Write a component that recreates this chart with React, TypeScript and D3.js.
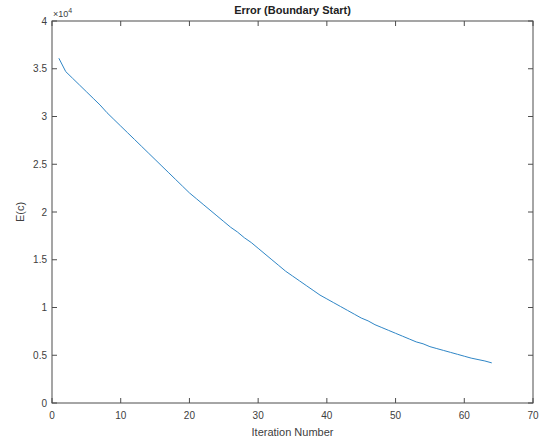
import React from "react";
import * as d3 from "d3";

const iterations: number[] = Array.from({ length: 64 }, (_, i) => i + 1);
const errorValues: number[] = [
  36100, 34700, 34000, 33300, 32600, 31900, 31200, 30400, 29700, 29000,
  28300, 27600, 26900, 26200, 25500, 24800, 24100, 23400, 22700, 22000,
  21400, 20800, 20200, 19600, 19000, 18400, 17900, 17300, 16800, 16200,
  15600, 15000, 14400, 13800, 13300, 12800, 12300, 11800, 11300, 10900,
  10500, 10100, 9700, 9300, 8900, 8600, 8200, 7900, 7600, 7300,
  7000, 6700, 6400, 6200, 5900, 5700, 5500, 5300, 5100, 4900,
  4700, 4550, 4400, 4200,
];
const xTicks: number[] = [0, 10, 20, 30, 40, 50, 60, 70];
const yTicks: number[] = [0, 0.5, 1, 1.5, 2, 2.5, 3, 3.5, 4];
const title = "Error (Boundary Start)";
const xLabel = "Iteration Number";
const yLabel = "E(c)";

export default function App() {
  const W = 546, H = 444;
  const L = 52, R = 533, T = 21, B = 403;
  const x = d3.scaleLinear().domain([0, 70]).range([L, R]);
  const y = d3.scaleLinear().domain([0, 40000]).range([B, T]);
  const line = d3
    .line<number>()
    .x((_, i) => x(iterations[i]))
    .y((d) => y(d));
  const axisColor = "#4d4d4d";
  const textColor = "#404040";
  const font = "'Liberation Sans', Arial, sans-serif";
  const tl = 5;
  return (
    <svg
      width={W}
      height={H}
      style={{ position: "absolute", left: 0, top: 0, background: "#fff" }}
      fontFamily={font}
    >
      <rect x={0} y={0} width={W} height={H} fill="#fff" />
      <path d={line(errorValues) || ""} fill="none" stroke="#2f86c6" strokeWidth={1} />
      <rect x={L} y={T} width={R - L} height={B - T} fill="none" stroke={axisColor} strokeWidth={1} />
      {xTicks.map((t) => (
        <g key={"x" + t}>
          <line x1={x(t)} x2={x(t)} y1={B} y2={B - tl} stroke={axisColor} />
          <line x1={x(t)} x2={x(t)} y1={T} y2={T + tl} stroke={axisColor} />
          <text x={x(t)} y={419} textAnchor="middle" fontSize={10} fill={textColor}>
            {t}
          </text>
        </g>
      ))}
      {yTicks.map((t) => (
        <g key={"y" + t}>
          <line x1={L} x2={L + tl} y1={y(t * 10000)} y2={y(t * 10000)} stroke={axisColor} />
          <line x1={R} x2={R - tl} y1={y(t * 10000)} y2={y(t * 10000)} stroke={axisColor} />
          <text x={47} y={y(t * 10000) + 3.5} textAnchor="end" fontSize={10} fill={textColor}>
            {t}
          </text>
        </g>
      ))}
      <text x={53} y={17} fontSize={9} fill={textColor}>
        ×10
        <tspan dy={-4} fontSize={7}>4</tspan>
      </text>
      <text x={(L + R) / 2} y={14} textAnchor="middle" fontSize={11} fontWeight="bold" fill="#222">
        {title}
      </text>
      <text x={(L + R) / 2} y={436} textAnchor="middle" fontSize={11} fill={textColor}>
        {xLabel}
      </text>
      <text
        transform={`translate(24,${(T + B) / 2}) rotate(-90)`}
        textAnchor="middle"
        fontSize={11}
        fill={textColor}
      >
        {yLabel}
      </text>
    </svg>
  );
}
